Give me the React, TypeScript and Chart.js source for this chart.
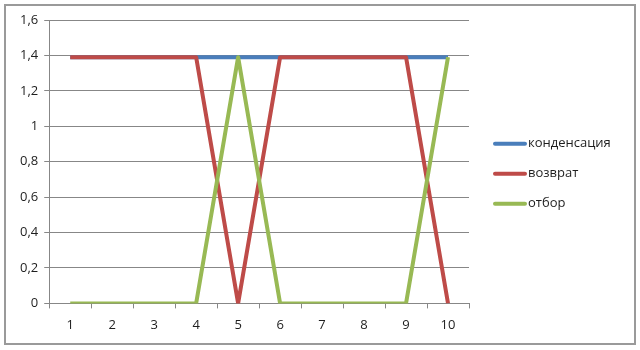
import React, { useEffect, useRef } from "react";
import { Chart, registerables } from "chart.js";

Chart.register(...registerables);

const categories = ["1", "2", "3", "4", "5", "6", "7", "8", "9", "10"];
const kondensatsiya = [1.39, 1.39, 1.39, 1.39, 1.39, 1.39, 1.39, 1.39, 1.39, 1.39];
const vozvrat = [1.39, 1.39, 1.39, 1.39, 0, 1.39, 1.39, 1.39, 1.39, 0];
const otbor = [0, 0, 0, 0, 1.39, 0, 0, 0, 0, 1.39];
const yTickLabels = ["0", "0,2", "0,4", "0,6", "0,8", "1", "1,2", "1,4", "1,6"];
const seriesNames = ["конденсация", "возврат", "отбор"];
const seriesColors = ["#4a7ebb", "#be4b48", "#98b954"];

const FONT = "'Open Sans', 'Noto Sans', sans-serif";
const GRID = "#878787";
const TEXT = "#1e1e1e";

const sideLegend = {
  id: "sideLegend",
  afterDraw(chart: any) {
    const { ctx, chartArea } = chart;
    const x0 = chartArea.right + 24;
    const cy = (chartArea.top + chartArea.bottom) / 2 + 12;
    ctx.save();
    ctx.font = `13px ${FONT}`;
    ctx.textBaseline = "middle";
    ctx.textAlign = "left";
    chart.data.datasets.forEach((ds: any, i: number) => {
      const y = cy + (i - 1) * 30;
      ctx.strokeStyle = ds.borderColor;
      ctx.lineWidth = 4;
      ctx.lineCap = "round";
      ctx.beginPath();
      ctx.moveTo(x0 + 2, y);
      ctx.lineTo(x0 + 32, y);
      ctx.stroke();
      ctx.fillStyle = TEXT;
      ctx.fillText(ds.label, x0 + 35, y);
    });
    ctx.restore();
  },
};

export default function App() {
  const ref = useRef<HTMLCanvasElement>(null);
  useEffect(() => {
    if (!ref.current) return;
    const series = [kondensatsiya, vozvrat, otbor];
    const chart = new Chart(ref.current, {
      type: "line",
      data: {
        labels: categories,
        datasets: series.map((d, i) => ({
          label: seriesNames[i],
          data: d,
          borderColor: seriesColors[i],
          backgroundColor: seriesColors[i],
          borderWidth: 4,
          pointRadius: 0,
          tension: 0,
          fill: false,
          borderJoinStyle: "round" as const,
          order: 3 - i,
        })),
      },
      options: {
        animation: false,
        responsive: false,
        layout: { padding: { left: 14, top: 20, right: 171, bottom: 8 } },
        plugins: {
          tooltip: { enabled: false },
          legend: { display: false },
        },
        scales: {
          x: {
            type: "category",
            offset: true,
            grid: {
              offset: true,
              drawOnChartArea: false,
              drawTicks: true,
              tickLength: 5,
              color: GRID,
            },
            border: { color: GRID },
            ticks: {
              font: { family: FONT, size: 13 },
              color: TEXT,
              padding: 9,
              maxRotation: 0,
              autoSkip: false,
            },
          },
          y: {
            min: 0,
            max: 1.6,
            grid: { color: GRID, tickLength: 5, drawTicks: true },
            border: { color: GRID },
            ticks: {
              stepSize: 0.2,
              font: { family: FONT, size: 13 },
              color: TEXT,
              padding: 6,
              callback: (_v: any, i: number) => yTickLabels[i],
            },
          },
        },
      },
      plugins: [sideLegend],
    });
    return () => chart.destroy();
  }, []);
  return (
    <div style={{ position: "fixed", left: 0, top: 0, width: 640, height: 350, background: "#fff" }}>
      <div
        style={{
          position: "absolute",
          left: 4,
          top: 4,
          width: 632,
          height: 341,
          boxSizing: "border-box",
          border: "2px solid #9a9a9a",
        }}
      />
      <canvas ref={ref} width={640} height={350} style={{ position: "absolute", left: 0, top: 0 }} />
    </div>
  );
}
